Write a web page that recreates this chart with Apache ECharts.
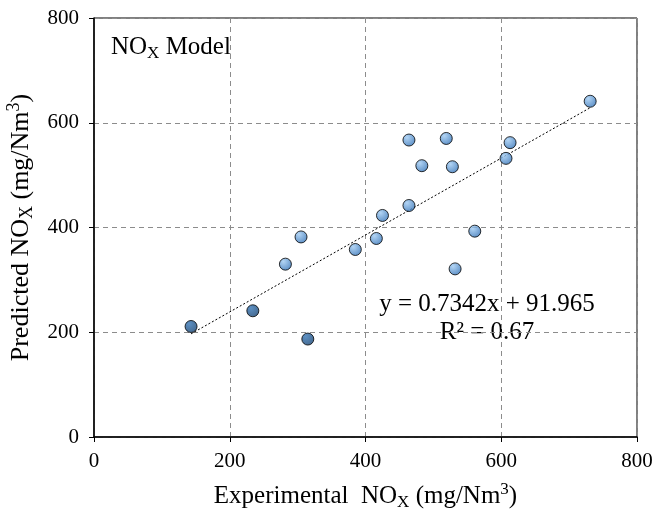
<!DOCTYPE html>
<html>
<head>
<meta charset="utf-8">
<script src="https://cdn.jsdelivr.net/npm/echarts@6/dist/echarts.min.js"></script>
<style>
  html, body { margin: 0; padding: 0; background: #fff; }
  #myChart { width: 657px; height: 518px; }
</style>
</head>
<body>
<div id="myChart"></div>
<script>
  // experimental vs predicted NOx (mg/Nm3)
  var experimental = [143, 234, 282, 305, 315, 385, 416, 425, 464, 464, 483, 519, 528, 532, 561, 607, 613, 731];
  var predicted    = [211, 241, 330, 382, 187, 358, 379, 423, 442, 567, 518, 570, 516, 321, 393, 532, 562, 641];
  var xTicks = [0, 200, 400, 600, 800];
  var yTicks = [0, 200, 400, 600, 800];

  // excel linear trendline
  var slope = 0.7342, intercept = 91.965;
  var trendX = [143, 731];

  var font = 'Liberation Serif';
  function makeRich(size) {
    var small = Math.round(size * 0.68);
    return {
      n: { fontSize: size, lineHeight: size + 5, fontFamily: font, color: '#000' },
      sub: { fontSize: small, lineHeight: small - 1, verticalAlign: 'bottom', fontFamily: font, color: '#000' },
      sup: { fontSize: small, lineHeight: small - 1, verticalAlign: 'top', fontFamily: font, color: '#000' }
    };
  }

  var points = experimental.map(function (x, i) { return [x, predicted[i]]; });
  var trend = trendX.map(function (x) { return [x, slope * x + intercept]; });

  var lightFill = new echarts.graphic.RadialGradient(0.35, 0.3, 0.8, [
    { offset: 0, color: '#9fcaf2' },
    { offset: 1, color: '#2a6bb2' }
  ]);
  var darkFill = new echarts.graphic.RadialGradient(0.35, 0.3, 0.8, [
    { offset: 0, color: '#3474b4' },
    { offset: 1, color: '#133f6d' }
  ]);

  var chart = echarts.init(document.getElementById('myChart'));
  var option = {
    animation: false,
    grid: {
      left: 94, right: 20, top: 18, bottom: 81,
      outerBoundsMode: 'none',
      show: true, borderColor: '#000', borderWidth: 1
    },
    xAxis: {
      type: 'value', min: 0, max: 800, interval: 200,
      name: '{n|Experimental  NO}{sub|X}{n| (mg/Nm}{sup|3}{n|)}',
      nameLocation: 'middle', nameGap: 44,
      nameTextStyle: { rich: makeRich(25) },
      axisLine: { show: true, lineStyle: { color: '#000', width: 1.5 } },
      axisTick: { show: true, length: 5, lineStyle: { color: '#000' } },
      axisLabel: {
        margin: 14, fontSize: 21, fontFamily: font, color: '#000',
        formatter: function (v) { return xTicks.indexOf(v) >= 0 ? String(v) : ''; }
      },
      splitLine: { show: true, lineStyle: { color: '#8c8c8c', type: [5, 4], width: 1 } }
    },
    yAxis: {
      type: 'value', min: 0, max: 800, interval: 200,
      name: '{n|Predicted NO}{sub|X}{n| (mg/Nm}{sup|3}{n|)}',
      nameLocation: 'middle', nameGap: 55,
      nameTextStyle: { rich: makeRich(26) },
      axisLine: { show: true, lineStyle: { color: '#000', width: 1.5 } },
      axisTick: { show: true, length: 5, lineStyle: { color: '#000' } },
      axisLabel: {
        margin: 15, fontSize: 21, fontFamily: font, color: '#000',
        formatter: function (v) { return yTicks.indexOf(v) >= 0 ? String(v) : ''; }
      },
      splitLine: { show: true, lineStyle: { color: '#8c8c8c', type: [5, 4], width: 1 } }
    },
    series: [
      {
        name: 'trend',
        type: 'line',
        data: trend,
        symbol: 'none',
        lineStyle: { color: '#000', width: 1, type: [2, 2] },
        z: 3
      },
      {
        name: 'NOx',
        type: 'scatter',
        data: points,
        symbolSize: 12,
        itemStyle: {
          borderColor: '#000', borderWidth: 1,
          color: function (p) { return p.value[1] < 250 ? darkFill : lightFill; }
        },
        z: 4
      }
    ],
    graphic: [
      {
        type: 'text', left: 111, top: 35,
        style: { text: '{n|NO}{sub|X}{n| Model}', rich: makeRich(25) }
      },
      {
        type: 'text', x: 487, y: 304,
        style: { text: 'y = 0.7342x + 91.965', font: '25px "Liberation Serif"', fill: '#000', align: 'center', verticalAlign: 'middle' }
      },
      {
        type: 'text', x: 487, y: 332,
        style: { text: 'R² = 0.67', font: '25px "Liberation Serif"', fill: '#000', align: 'center', verticalAlign: 'middle' }
      }
    ]
  };
  chart.setOption(option);
</script>
</body>
</html>
